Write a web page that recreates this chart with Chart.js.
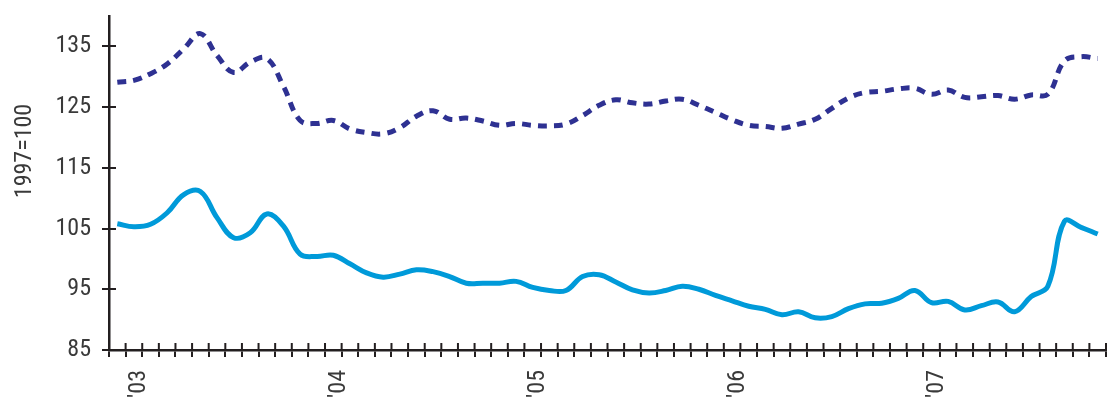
<!DOCTYPE html>
<html>
<head>
<meta charset="utf-8">
<script src="https://cdn.jsdelivr.net/npm/chart.js@4/dist/chart.umd.min.js"></script>
<style>
  html, body { margin: 0; padding: 0; background: #ffffff; }
  #wrap { position: relative; width: 1109px; height: 399px; }
</style>
</head>
<body>
<div id="wrap"><canvas id="c" width="1109" height="399"></canvas></div>
<script>
// Monthly index values, 1997 = 100
const years = ['2003', '2004', '2005', '2006', '2007'];
const monthNames = ['Jan', 'Feb', 'Mar', 'Apr', 'May', 'Jun', 'Jul', 'Aug', 'Sep', 'Oct', 'Nov', 'Dec'];
const categories = years.flatMap(y => monthNames.map(m => m + ' ' + y));
const yearTickLabels = ["'03", "'04", "'05", "'06", "'07"];
const yTickValues = [85, 95, 105, 115, 125, 135];
const yAxisTitle = '1997=100';

const dashedSeries = [
  129.1, 129.4, 130.5, 132.1, 134.6, 137.1, 133.5, 130.7, 132.4, 133.0, 128.4, 122.8,
  122.3, 122.8, 121.4, 120.8, 120.6, 121.6, 123.5, 124.4, 123.0, 123.2, 122.7, 122.0,
  122.3, 122.0, 121.9, 122.2, 123.6, 125.3, 126.2, 125.7, 125.5, 126.0, 126.3, 125.3,
  124.1, 122.9, 122.0, 121.8, 121.5, 122.2, 123.0, 124.8, 126.5, 127.4, 127.6, 128.0,
  128.1, 127.1, 127.8, 126.6, 126.7, 126.9, 126.3, 127.0, 127.1, 132.6, 133.3, 133.0
];

const solidSeries = [
  105.8, 105.3, 105.7, 107.6, 110.6, 111.1, 106.8, 103.5, 104.3, 107.4, 105.4, 100.8,
  100.4, 100.6, 99.2, 97.7, 97.0, 97.5, 98.2, 97.9, 97.1, 96.0, 96.0, 96.0,
  96.3, 95.3, 94.8, 94.8, 97.1, 97.4, 96.2, 94.9, 94.4, 94.8, 95.5, 95.0,
  94.0, 93.1, 92.2, 91.7, 90.8, 91.3, 90.3, 90.5, 91.8, 92.6, 92.7, 93.5,
  94.8, 92.8, 93.0, 91.6, 92.3, 92.9, 91.3, 93.8, 95.5, 106.2, 105.2, 104.1
];

const AXIS_COLOR = '#231f20';
const TEXT_COLOR = '#3a3a3a';
const FONT_FAMILY = 'Roboto, "Liberation Sans", Arial, sans-serif';
// font-stretch keyword, placed in the weight slot of the canvas font string
const FONT_WIDTH = 'semi-condensed';
const TICK_LEN = 7;

// Tick marks cross the axis lines: draw the half that reaches into the plot area
const innerTicks = {
  id: 'innerTicks',
  beforeDatasetsDraw(chart) {
    const { ctx, chartArea, scales } = chart;
    ctx.save();
    ctx.strokeStyle = AXIS_COLOR;
    ctx.lineWidth = 2;
    ctx.beginPath();
    scales.y.ticks.forEach(t => {
      const py = Math.round(scales.y.getPixelForValue(t.value));
      ctx.moveTo(chartArea.left, py);
      ctx.lineTo(chartArea.left + TICK_LEN, py);
    });
    const xs = scales.x;
    const n = xs.ticks.length;
    for (let i = 0; i <= n; i++) {
      const px = xs.getPixelForValue(i - 0.5);
      ctx.moveTo(px, chartArea.bottom);
      ctx.lineTo(px, chartArea.bottom - TICK_LEN);
    }
    ctx.stroke();
    ctx.restore();
  }
};

// Vertical unit caption beside the value axis
const unitCaption = {
  id: 'unitCaption',
  afterDraw(chart) {
    const { ctx } = chart;
    ctx.save();
    ctx.translate(25, 151);
    ctx.rotate(-Math.PI / 2);
    ctx.fillStyle = TEXT_COLOR;
    ctx.font = FONT_WIDTH + ' 24px ' + FONT_FAMILY;
    ctx.textAlign = 'center';
    ctx.textBaseline = 'middle';
    ctx.fillText(yAxisTitle, 0, 0);
    ctx.restore();
  }
};

new Chart(document.getElementById('c'), {
  type: 'line',
  data: {
    labels: categories,
    datasets: [
      {
        data: dashedSeries,
        borderColor: '#2e3192',
        borderWidth: 5,
        borderDash: [9, 7],
        borderCapStyle: 'butt',
        pointRadius: 0,
        tension: 0.4,
        fill: false
      },
      {
        data: solidSeries,
        borderColor: '#009ad9',
        borderWidth: 5,
        pointRadius: 0,
        tension: 0.4,
        fill: false
      }
    ]
  },
  options: {
    responsive: false,
    animation: false,
    devicePixelRatio: 1,
    layout: { padding: { top: 16, right: 3, left: 0, bottom: 0 } },
    plugins: { legend: { display: false }, tooltip: { enabled: false } },
    scales: {
      x: {
        type: 'category',
        offset: true,
        grid: {
          offset: true,
          drawOnChartArea: false,
          drawTicks: true,
          tickLength: TICK_LEN,
          color: AXIS_COLOR,
          lineWidth: 2
        },
        border: { display: true, color: AXIS_COLOR, width: 2.5 },
        ticks: {
          autoSkip: false,
          minRotation: 90,
          maxRotation: 90,
          padding: 13,
          labelOffset: 22,
          color: TEXT_COLOR,
          font: { family: FONT_FAMILY, weight: FONT_WIDTH, size: 24 },
          callback: (value, index) => (index % 12 === 0 ? yearTickLabels[index / 12] : '')
        },
        afterFit: scale => {
          scale.height = 49;
          scale.paddingLeft = scale.paddingRight = 0;
        }
      },
      y: {
        min: 85,
        max: 140,
        grid: {
          drawOnChartArea: false,
          drawTicks: true,
          tickLength: TICK_LEN,
          color: AXIS_COLOR,
          lineWidth: 2
        },
        border: { display: true, color: AXIS_COLOR, width: 2.5 },
        afterBuildTicks: scale => { scale.ticks = yTickValues.map(v => ({ value: v })); },
        ticks: {
          padding: 11,
          color: TEXT_COLOR,
          font: { family: FONT_FAMILY, weight: FONT_WIDTH, size: 24 }
        },
        afterFit: scale => {
          scale.width = 109;
          scale.paddingTop = scale.paddingBottom = 0;
        }
      }
    }
  },
  plugins: [innerTicks, unitCaption]
});
</script>
</body>
</html>
